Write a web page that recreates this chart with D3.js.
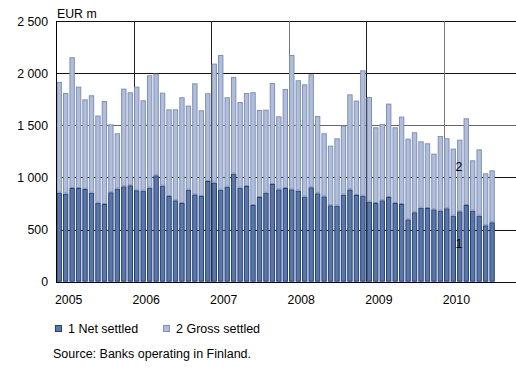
<!DOCTYPE html>
<html><head><meta charset="utf-8">
<script src="https://cdn.jsdelivr.net/npm/d3@7"></script>
<style>body{margin:0;background:#fff}svg{display:block;font-family:"Liberation Sans",Arial,sans-serif}</style>
</head><body><svg id="c" width="516" height="369"></svg>
<script>
const years = ["2005","2006","2007","2008","2009","2010"];
const yTicks = [0,500,1000,1500,2000,2500];
const yTickLabels = ["0","500","1 000","1 500","2 000","2 500"];
// monthly totals (top of light bar) and net settled, Jan 2005 – Aug 2010
const netSettled = [
 854,845,899,899,890,854,758,746,858,893,915,925,
 877,874,902,1021,922,822,781,755,883,838,822,966,
 950,883,912,1037,902,918,736,813,854,938,886,899,
 886,874,816,906,848,819,733,730,835,886,832,826,
 768,755,781,813,755,746,598,666,710,707,694,682,
 704,634,675,736,682,634,541,570];
const totalSettled = [
 1917,1811,2154,1872,1750,1789,1594,1734,1510,1424,1853,1818,
 1872,1741,1981,1997,1814,1654,1654,1770,1690,1904,1645,1808,
 2093,2176,1770,1965,1725,1811,1818,1648,1651,1907,1587,1850,
 2176,1933,1894,1990,1590,1424,1306,1376,1498,1798,1738,2029,
 1773,1482,1514,1709,1482,1584,1373,1434,1347,1328,1229,1398,
 1376,1277,1363,1568,1165,1270,1040,1069];
const grossSettled = totalSettled.map((t,i)=>t-netSettled[i]);
const seriesNames = ["1 Net settled","2 Gross settled"];
const months = netSettled.map((_,i)=>i);

const svg = d3.select("#c");
const x0 = 56, barRight = 56 + 68*6.46, plotRight = 516;
const x = d3.scaleBand().domain(months).range([x0, barRight]).paddingInner(0.17).paddingOuter(0.08);
const y = d3.scaleLinear().domain([0,2500]).range([281.7,21.2]);
const step = x.step();
const font = "Liberation Sans, Arial, sans-serif";

// gridlines
svg.append("g").selectAll("line").data(yTicks).join("line")
  .attr("x1",x0).attr("x2",plotRight)
  .attr("y1",d=>Math.round(y(d))+0.5).attr("y2",d=>Math.round(y(d))+0.5)
  .attr("stroke",d=>d===1500?"#666":"#111").attr("stroke-width",1);
// year separators
svg.append("g").selectAll("line").data(years.slice(1)).join("line")
  .attr("x1",(d,i)=>Math.round(x0+(i+1)*12*step)+0.5)
  .attr("x2",(d,i)=>Math.round(x0+(i+1)*12*step)+0.5)
  .attr("y1",y(2500)).attr("y2",y(0))
  .attr("stroke",(d,i)=>(i===2||i===4)?"#777":"#222").attr("stroke-width",1);

// bars
const stack = d3.stack().keys(["net","gross"])(months.map(i=>({net:netSettled[i],gross:grossSettled[i]})));
const fills = ["#5c77a5","#b2bed8"], strokes = ["#22407a","#7d90bb"];
stack.forEach((s,k)=>{
  svg.append("g").selectAll("rect").data(s).join("rect")
    .attr("x",(d,i)=>x(i)+0.5).attr("width",x.bandwidth()-1)
    .attr("y",d=>y(d[1])+0.5).attr("height",d=>Math.max(0,y(d[0])-y(d[1])-1))
    .attr("fill",fills[k]).attr("stroke",strokes[k]).attr("stroke-width",1);
});

// axes lines
svg.append("line").attr("x1",x0+0.5).attr("x2",x0+0.5).attr("y1",y(2500)).attr("y2",y(0)+1).attr("stroke","#000");
svg.append("line").attr("x1",x0).attr("x2",barRight+1).attr("y1",Math.round(y(0))+0.5).attr("y2",Math.round(y(0))+0.5).attr("stroke","#000").attr("stroke-width",1.2);

// y tick labels
svg.append("g").selectAll("text").data(yTicks).join("text")
  .attr("x",48).attr("y",d=>y(d)+4.5).attr("text-anchor","end")
  .attr("font-size",12.3).attr("font-family",font).attr("fill","#000")
  .text((d,i)=>yTickLabels[i]);
svg.append("text").attr("x",57).attr("y",18).attr("font-size",12.3).attr("font-family",font).text("EUR m");

// x labels
svg.append("g").selectAll("text").data(years).join("text")
  .attr("x",(d,i)=>x0+i*12*step-1).attr("y",304)
  .attr("font-size",12.3).attr("font-family",font).text(d=>d);

// inline series labels
svg.append("text").attr("x",459).attr("y",171).attr("text-anchor","middle").attr("font-size",12.3).attr("font-family",font).text("2");
svg.append("text").attr("x",459).attr("y",248).attr("text-anchor","middle").attr("font-size",12.3).attr("font-family",font).text("1");

// legend
const lg = svg.append("g");
[[55,68],[163,176]].forEach((p,k)=>{
  lg.append("rect").attr("x",p[0]+0.5).attr("y",325.5).attr("width",6).attr("height",6)
    .attr("fill",fills[k]).attr("stroke",strokes[k]);
  lg.append("text").attr("x",p[1]).attr("y",333).attr("font-size",12.5).attr("font-family",font).text(seriesNames[k]);
});
svg.append("text").attr("x",53).attr("y",358).attr("font-size",12.5).attr("font-family",font).text("Source: Banks operating in Finland.");
</script></body></html>
